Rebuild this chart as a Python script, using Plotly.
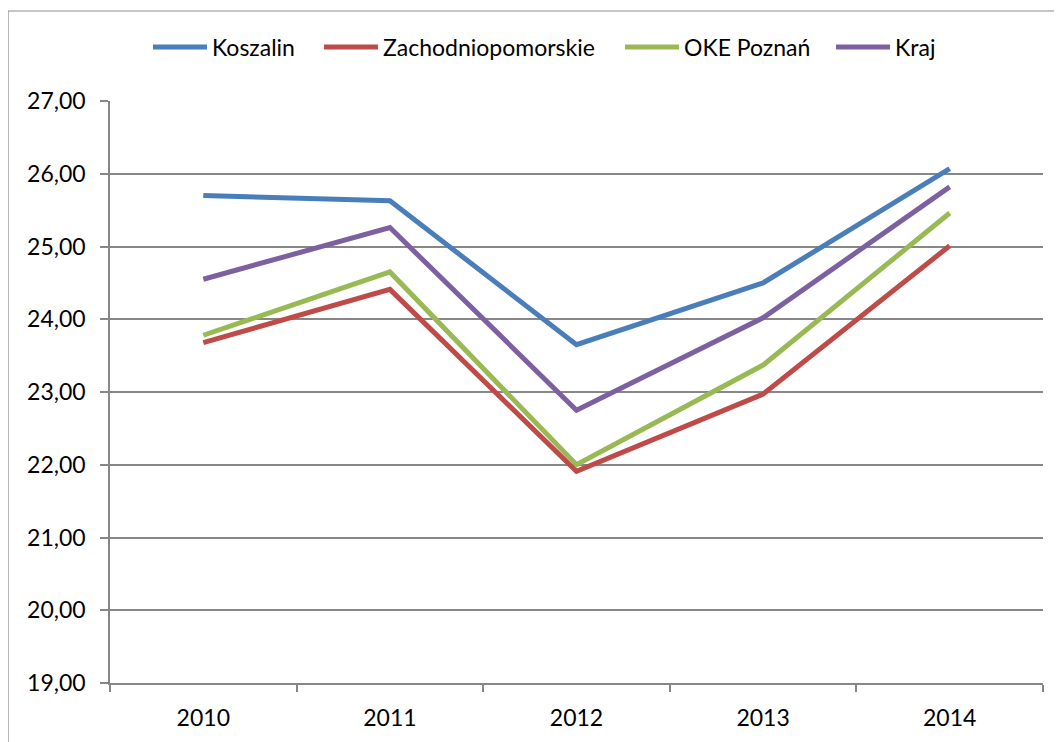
import plotly.graph_objects as go

years = ["2010", "2011", "2012", "2013", "2014"]
koszalin = [25.70, 25.63, 23.65, 24.50, 26.07]
zachodniopomorskie = [23.68, 24.41, 21.91, 22.97, 25.01]
oke_poznan = [23.78, 24.65, 22.00, 23.37, 25.46]
kraj = [24.55, 25.26, 22.75, 24.02, 25.82]

series = [
    ("Koszalin", koszalin, "#4A7EBB"),
    ("Zachodniopomorskie", zachodniopomorskie, "#BE4B48"),
    ("OKE Poznań", oke_poznan, "#98B954"),
    ("Kraj", kraj, "#7D60A0"),
]
legend_ids = ["legend", "legend2", "legend3", "legend4"]
legend_x = [0.0407, 0.2240, 0.5466, 0.7728]

fig = go.Figure()
for (name, vals, col), lid in zip(series, legend_ids):
    fig.add_trace(go.Scatter(x=years, y=vals, mode="lines", name=name, legend=lid,
                             line=dict(color=col, width=5)))

grid = "#878787"
legends = {}
for lid, lx in zip(legend_ids, legend_x):
    legends[lid] = dict(orientation="h", x=lx, xanchor="left", y=1.0928, yanchor="middle",
                        font=dict(size=23), itemwidth=54, bgcolor="rgba(0,0,0,0)")

# page body has an 8px default margin, so figure coords = screen coords - 8
fig.update_layout(
    width=1054, height=734,
    margin=dict(l=102, r=19, t=93, b=59),
    paper_bgcolor="white", plot_bgcolor="white",
    separators=", ",
    font=dict(family="Lato, Carlito, sans-serif", size=23, color="black"),
    showlegend=True,
    xaxis=dict(type="category", tickson="boundaries", ticks="outside", ticklen=7,
               tickcolor=grid, tickwidth=1.5, showline=True, linecolor=grid, linewidth=1.5,
               showgrid=False, ticklabelstandoff=14, range=[-0.5, 4.5]),
    yaxis=dict(range=[19, 27], dtick=1, tickformat=".2f", ticks="outside", ticklen=8,
               tickcolor=grid, tickwidth=1.5, showline=True, linecolor=grid, linewidth=1.5,
               showgrid=True, gridcolor=grid, gridwidth=1.5, zeroline=False,
               ticklabelstandoff=10),
    shapes=[dict(type="rect", xref="paper", yref="paper", x0=-0.1093, x1=1.1,
                 y0=-0.3, y1=1.1546, line=dict(color="#8c8c8c", width=1.2),
                 fillcolor="rgba(0,0,0,0)", layer="below")],
    **legends,
)

fig.write_html("out.html")
